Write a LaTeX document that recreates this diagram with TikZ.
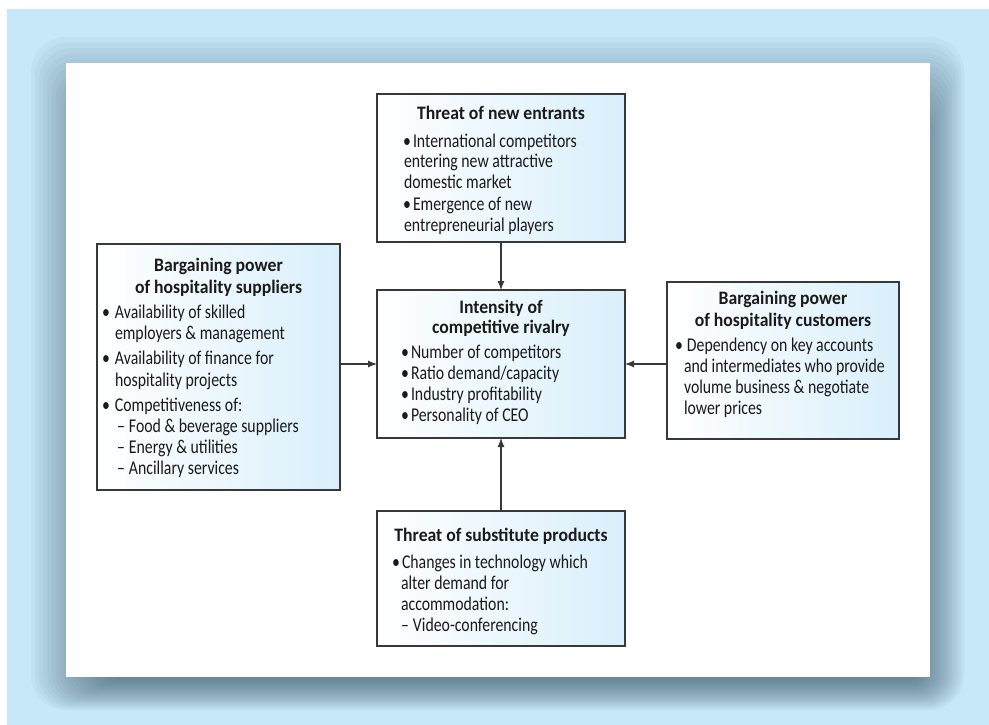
\documentclass[tikz,border=0pt]{standalone}
\usepackage{fontspec}
\setmainfont{Carlito}[FakeStretch=0.81]
\newfontfamily\ttlfont{Carlito}[FakeStretch=0.93]
\usetikzlibrary{arrows.meta}
\definecolor{bgblue}{HTML}{C6E8F9}
\definecolor{shadowc}{RGB}{58,84,104}
\definecolor{boxblue}{HTML}{D9EFFB}
\definecolor{edgec}{HTML}{383838}
\definecolor{textc}{HTML}{1A1A1A}
\newcommand{\bulw}[1]{\makebox[#1][l]{\textbullet}}
\newcommand{\ttl}[2]{\makebox[#1][c]{\ttlfont\bfseries\fontsize{19}{20.5}\selectfont\strut #2}}
\newcommand{\dsh}[1]{\hspace*{#1}\makebox[12pt][l]{--}}
\tikzset{
  boxnode/.style={draw=edgec, line width=1.2pt, left color=white, right color=boxblue,
    inner sep=0pt, outer sep=0pt, anchor=north west},
  txt/.style={inner sep=0pt, outer sep=0pt, anchor=north west, align=left,
    font=\fontsize{19.5}{20.5}\selectfont, text=textc},
  arr/.style={draw=edgec, line width=1.1pt, -{Latex[length=9pt,width=7pt]}}
}
\begin{document}
\begin{tikzpicture}[x=1pt,y=-1pt]
\useasboundingbox (0,0) rectangle (989,725);
\fill[white] (0,0) rectangle (989,725);
\fill[bgblue] (7,9) rectangle (989,725);
% soft shadow
\foreach \i in {0,...,19}{
  \pgfmathsetmacro\rr{max(35-1.3*\i,4)}
  \fill[shadowc, fill opacity=0.048, rounded corners=\rr pt]
    ({31+4.1*\i},{37+5.6*\i}) rectangle ({964-2.4*\i},{710-1.6*\i});
}
\fill[white] (66,63) rectangle (930,677);

% boxes
\node[boxnode, minimum width=248pt, minimum height=148pt] (entr) at (377,94) {};
\node[boxnode, minimum width=248pt, minimum height=148pt] (riv) at (377,290) {};
\node[boxnode, minimum width=243pt, minimum height=246pt] (supp) at (97,244) {};
\node[boxnode, minimum width=232pt, minimum height=157pt] (cust) at (667,282) {};
\node[boxnode, minimum width=248pt, minimum height=135pt] (subs) at (377,511) {};

% texts
\node[txt] (entrtxt) at (403,{119-14.35}) {%
\ttl{196pt}{Threat of new entrants}\\[7.5pt]
\bulw{10pt}International competitors\\
\hspace*{1pt}entering new attractive\\
\hspace*{1pt}domestic market\\[2pt]
\bulw{10pt}Emergence of new\\
\hspace*{1pt}entrepreneurial players};

\node[txt] (rivtxt) at (401,{313-14.35}) {%
\ttl{200pt}{Intensity of}\\[-0.5pt]
\ttl{200pt}{competitive rivalry}\\[4.5pt]
\bulw{10pt}Number of competitors\\[0.5pt]
\bulw{10pt}Ratio demand/capacity\\[0.5pt]
\bulw{10pt}Industry profitability\\[0.5pt]
\bulw{10pt}Personality of CEO};

\node[txt] (supptxt) at (102,{271-14.35}) {%
\ttl{233pt}{Bargaining power}\\[1.5pt]
\ttl{233pt}{of hospitality suppliers}\\[4.5pt]
\bulw{13pt}Availability of skilled\\[0.5pt]
\hspace*{13pt}employers \& management\\[4.5pt]
\bulw{13pt}Availability of finance for\\[1.5pt]
\hspace*{13pt}hospitality projects\\[4.5pt]
\bulw{13pt}Competitiveness of:\\[0.5pt]
\dsh{15pt}Food \& beverage suppliers\\[0.5pt]
\dsh{15pt}Energy \& utilities\\[0.5pt]
\dsh{15pt}Ancillary services};

\node[txt] (custtxt) at (675,{304-14.35}) {%
\ttl{216pt}{Bargaining power}\\[1.5pt]
\ttl{216pt}{of hospitality customers}\\[4.5pt]
\bulw{12pt}Dependency on key accounts\\[0.5pt]
\hspace*{9pt}and intermediates who provide\\[0.5pt]
\hspace*{9pt}volume business \& negotiate\\[0.5pt]
\hspace*{9pt}lower prices};

\node[txt] (substxt) at (392,{541-14.35}) {%
\ttl{218pt}{Threat of substitute products}\\[6.5pt]
\bulw{10pt}Changes in technology which\\[0.5pt]
\hspace*{9pt}alter demand for\\[0.5pt]
\hspace*{9pt}accommodation:\\[0.5pt]
\dsh{9pt}Video-conferencing};

% connectors
\draw[arr] (entr.south) -- (riv.north);
\draw[arr] (supp.east |- riv.west) -- (riv.west);
\draw[arr] (cust.west |- riv.east) -- (riv.east);
\draw[arr] (subs.north) -- (riv.south);
\end{tikzpicture}
\end{document}
